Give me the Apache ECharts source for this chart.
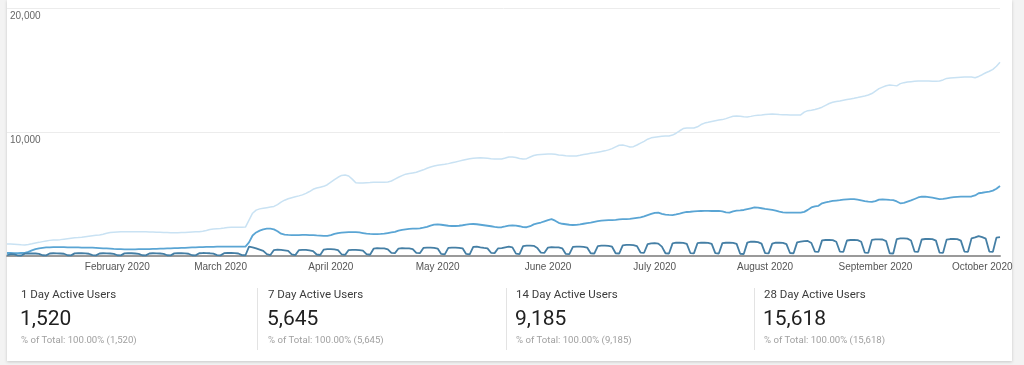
<!DOCTYPE html>
<html>
<head>
<meta charset="utf-8">
<script src="https://cdn.jsdelivr.net/npm/echarts@6/dist/echarts.min.js"></script>
<style>
  html, body { margin: 0; padding: 0; width: 1024px; height: 365px; background: #f3f3f3; overflow: hidden; }
  #card { position: absolute; left: 7px; top: 0; width: 1005px; height: 361px; background: #fff; box-shadow: 0 1px 3px rgba(0,0,0,0.18); }
  #chart { position: absolute; left: 0; top: 0; width: 1024px; height: 365px; }
</style>
</head>
<body>
<div id="card"></div>
<div id="chart"></div>
<script>
// ---- data ----
const startDate = '2020-01-01';
const dayCount = 280;
const monthTickLabels = ['January 2020', 'February 2020', 'March 2020', 'April 2020', 'May 2020', 'June 2020', 'July 2020', 'August 2020', 'September 2020', 'October 2020'];
const yTicks = [0, 10000, 20000];

const oneDayUsers = [
  60,140,130,50,40,
  190,210,200,200,170,60,50,
  200,220,210,200,180,60,50,
  210,220,220,210,180,70,50,
  200,220,210,200,170,60,50,
  210,220,220,200,170,60,50,
  200,220,210,200,170,60,50,
  210,230,220,210,180,60,50,
  220,240,230,220,190,70,50,
  230,250,240,230,200,70,60,
  760,700,620,520,420,150,80,
  480,520,500,460,420,130,70,
  470,500,490,460,400,120,80,
  520,560,550,530,470,140,90,
  480,500,490,480,440,150,100,
  590,630,620,610,540,260,230,
  600,630,620,610,560,260,230,
  650,680,670,660,600,170,130,
  650,680,680,660,620,170,130,
  740,760,700,650,610,260,230,
  620,640,700,750,700,190,150,
  800,840,830,820,650,270,260,
  680,710,700,690,620,170,150,
  730,760,750,740,680,220,200,
  800,830,830,820,750,220,200,
  860,890,890,880,800,280,260,
  960,1020,1030,1000,760,220,200,
  1020,1070,1070,1060,980,240,210,
  1030,1070,1070,1060,980,230,200,
  1040,1070,1070,1060,980,180,160,
  1080,1150,1150,1120,1000,230,210,
  1000,1070,1070,1060,960,240,220,
  1100,1160,1200,1210,1050,360,340,
  1260,1290,1290,1280,1150,360,340,
  1250,1290,1290,1280,1150,280,260,
  1300,1340,1340,1330,1200,220,200,
  1370,1420,1420,1400,1250,360,340,
  1330,1370,1370,1360,1240,280,260,
  1320,1370,1370,1360,1240,360,340,
  1420,1500,1610,1520,1400,360,340,
  1480,1520
];

const sevenDayUsers = [
  240,240,230,230,240,250,330,450,560,620,660,690,700,
  710,720,720,710,700,700,690,690,680,680,670,670,660,
  640,620,610,590,570,560,550,540,540,540,540,550,550,560,560,570,580,590,600,610,620,630,640,650,660,680,690,700,710,720,730,740,740,750,750,750,750,750,750,760,760,760,
  1100,1650,1900,2050,2150,2200,2200,2150,2000,1800,1720,1700,1690,1680,1690,1700,1700,1690,1680,1660,1650,1620,1620,
  1680,1780,1850,1880,1900,1920,1930,1930,1900,1850,1800,1780,1770,1770,1780,1800,1850,1900,1950,2050,2100,2150,2180,2200,2210,2230,2280,2350,2450,2530,2550,2520,2480,2440,2420,2420,2440,2480,2530,2570,2580,2560,2520,2480,2440,2400,2350,
  2310,2320,2380,2450,2470,2450,2400,2330,2320,2400,2550,2630,2700,2800,2900,2970,2850,2680,2600,2560,2520,2500,2510,2550,2600,2650,2700,2760,2820,2850,2870,2890,2900,2920,2950,2970,2980,3000,3040,3080,3120,3200,3300,3400,3480,3500,3400,3330,3310,
  3300,3350,3420,3500,3550,3570,3600,3620,3630,3640,3640,3630,3630,3640,3600,3520,3500,3600,3660,3680,3710,3780,3850,3920,3900,3850,3800,3760,3720,3660,3580,3520,3500,3490,3490,3490,3500,3560,3720,3920,4000,4050,4250,4330,4380,4440,4470,
  4500,4540,4570,4590,4580,4540,4480,4420,4380,4360,4420,4540,4570,4550,4520,4500,4400,4250,4280,4380,4480,4600,4720,4790,4780,4740,4700,4640,4580,4600,4650,4700,4740,4770,4790,4790,4790,4800,4880,5060,5100,5150,5200,5270,5420,5645
];

const twentyEightDayUsers = [
  970,960,940,920,900,890,920,980,1050,1100,
  1160,1210,1260,1290,1300,1320,1360,1400,1440,1470,
  1490,1520,1560,1600,1640,1670,1700,1760,1830,1890,
  1920,1940,1950,1960,1960,1960,1960,1960,1950,1950,
  1940,1930,1920,1910,1900,1890,1880,1880,1880,1890,
  1900,1920,1940,1950,1960,2000,2060,2130,2180,2200,
  2220,2250,2290,2310,2310,2320,2320,2330,2900,3450,
  3700,3800,3850,3900,3950,4000,4150,4350,4500,4620,
  4700,4780,4850,4930,5050,5200,5380,5480,5550,5620,
  5750,5950,6150,6350,6500,6530,6450,6200,5900,5880,
  5880,5900,5920,5950,5950,5940,5940,5970,6050,6200,
  6350,6480,6600,6650,6700,6750,6850,6950,7080,7180,
  7250,7310,7360,7400,7450,7520,7580,7650,7720,7790,
  7850,7890,7910,7920,7910,7880,7850,7830,7820,7830,
  7900,7980,7990,7950,7870,7820,7850,7980,8100,8160,
  8190,8210,8230,8230,8200,8150,8120,8090,8070,8060,
  8070,8120,8180,8230,8280,8320,8370,8420,8480,8560,
  8660,8800,8930,8950,8880,8790,8820,8950,9100,9250,
  9420,9530,9580,9620,9650,9670,9680,9750,9900,10100,
  10280,10330,10330,10320,10420,10600,10720,10780,10850,10910,
  10960,11000,11080,11180,11270,11290,11270,11230,11210,11260,
  11320,11360,11380,11410,11440,11450,11430,11410,11400,11390,
  11380,11370,11370,11380,11600,11720,11760,11820,11900,12000,
  12150,12300,12400,12460,12500,12560,12620,12670,12720,12780,
  12850,12910,12980,13100,13300,13500,13620,13730,13790,13760,
  13720,13900,13980,14030,14060,14090,14110,14120,14120,14110,
  14100,14100,14110,14200,14320,14360,14380,14400,14420,14430,
  14440,14430,14380,14480,14620,14780,14900,15050,15300,15618
];

const cardTitles = ['1 Day Active Users', '7 Day Active Users', '14 Day Active Users', '28 Day Active Users'];
const cardValues = ['1,520', '5,645', '9,185', '15,618'];
const cardPercent = '100.00%';

// ---- categories (one per day) ----
const dates = [];
const t0 = Date.parse(startDate + 'T00:00:00Z');
for (let i = 0; i < dayCount; i++) {
  dates.push(new Date(t0 + i * 86400000).toISOString().slice(0, 10));
}

// ---- scorecards ----
const cardX = [21, 268, 516, 764];
const sepX = [257, 506, 754];
const graphics = [];
cardTitles.forEach(function (title, i) {
  graphics.push({ type: 'text', left: cardX[i], top: 289, silent: true,
    style: { text: title, fill: '#3c3c3c', font: '11.5px Roboto, "Noto Sans", sans-serif' } });
  graphics.push({ type: 'text', left: cardX[i] - 1, top: 309, silent: true,
    style: { text: cardValues[i], fill: '#212121', font: '21px Roboto, "Noto Sans", sans-serif' } });
  graphics.push({ type: 'text', left: cardX[i], top: 336, silent: true,
    style: { text: '% of Total: ' + cardPercent + ' (' + cardValues[i] + ')', fill: '#a0a0a0', font: '9.6px Roboto, "Noto Sans", sans-serif' } });
});
sepX.forEach(function (x) {
  graphics.push({ type: 'line', silent: true, shape: { x1: x + 0.5, y1: 288, x2: x + 0.5, y2: 350 },
    style: { stroke: '#e3e3e3', lineWidth: 1 } });
});

const chart = echarts.init(document.getElementById('chart'), null, { renderer: 'canvas' });
chart.setOption({
  animation: false,
  backgroundColor: 'transparent',
  grid: { left: 7, right: 24, top: 8, bottom: 109, containLabel: false },
  xAxis: {
    type: 'category',
    data: dates,
    boundaryGap: false,
    axisLine: { show: true, lineStyle: { color: '#9a9a9a', width: 2 } },
    axisTick: { show: false },
    splitLine: { show: false },
    axisLabel: {
      interval: function (index, value) { return index > 0 && value.slice(8, 10) === '01'; },
      formatter: function (value) { return monthTickLabels[parseInt(value.slice(5, 7), 10) - 1]; },
      color: '#555',
      fontSize: 10,
      fontFamily: '"Liberation Sans", Arial, sans-serif',
      margin: 6
    }
  },
  yAxis: {
    type: 'value',
    min: yTicks[0],
    max: yTicks[yTicks.length - 1],
    interval: yTicks[1] - yTicks[0],
    axisLine: { show: false },
    axisTick: { show: false },
    splitLine: { lineStyle: { color: '#ececec', width: 1 } },
    axisLabel: {
      inside: true,
      showMinLabel: false,
      margin: 3,
      verticalAlign: 'top',
      padding: [3, 0, 0, 0],
      color: '#666',
      fontSize: 10,
      fontFamily: '"Liberation Sans", Arial, sans-serif',
      formatter: function (v) { return v.toLocaleString('en-US'); }
    }
  },
  series: [
    { name: '28 Day Active Users', type: 'line', data: twentyEightDayUsers, showSymbol: false, z: 3,
      lineStyle: { color: '#c9e2f3', width: 1.5 } },
    { name: '7 Day Active Users', type: 'line', data: sevenDayUsers, showSymbol: false, z: 4,
      lineStyle: { color: '#5aa5d4', width: 1.8 } },
    { name: '1 Day Active Users', type: 'line', data: oneDayUsers, showSymbol: false, z: 5,
      lineStyle: { color: '#457fa5', width: 1.8 } }
  ],
  graphic: graphics
});
</script>
</body>
</html>
